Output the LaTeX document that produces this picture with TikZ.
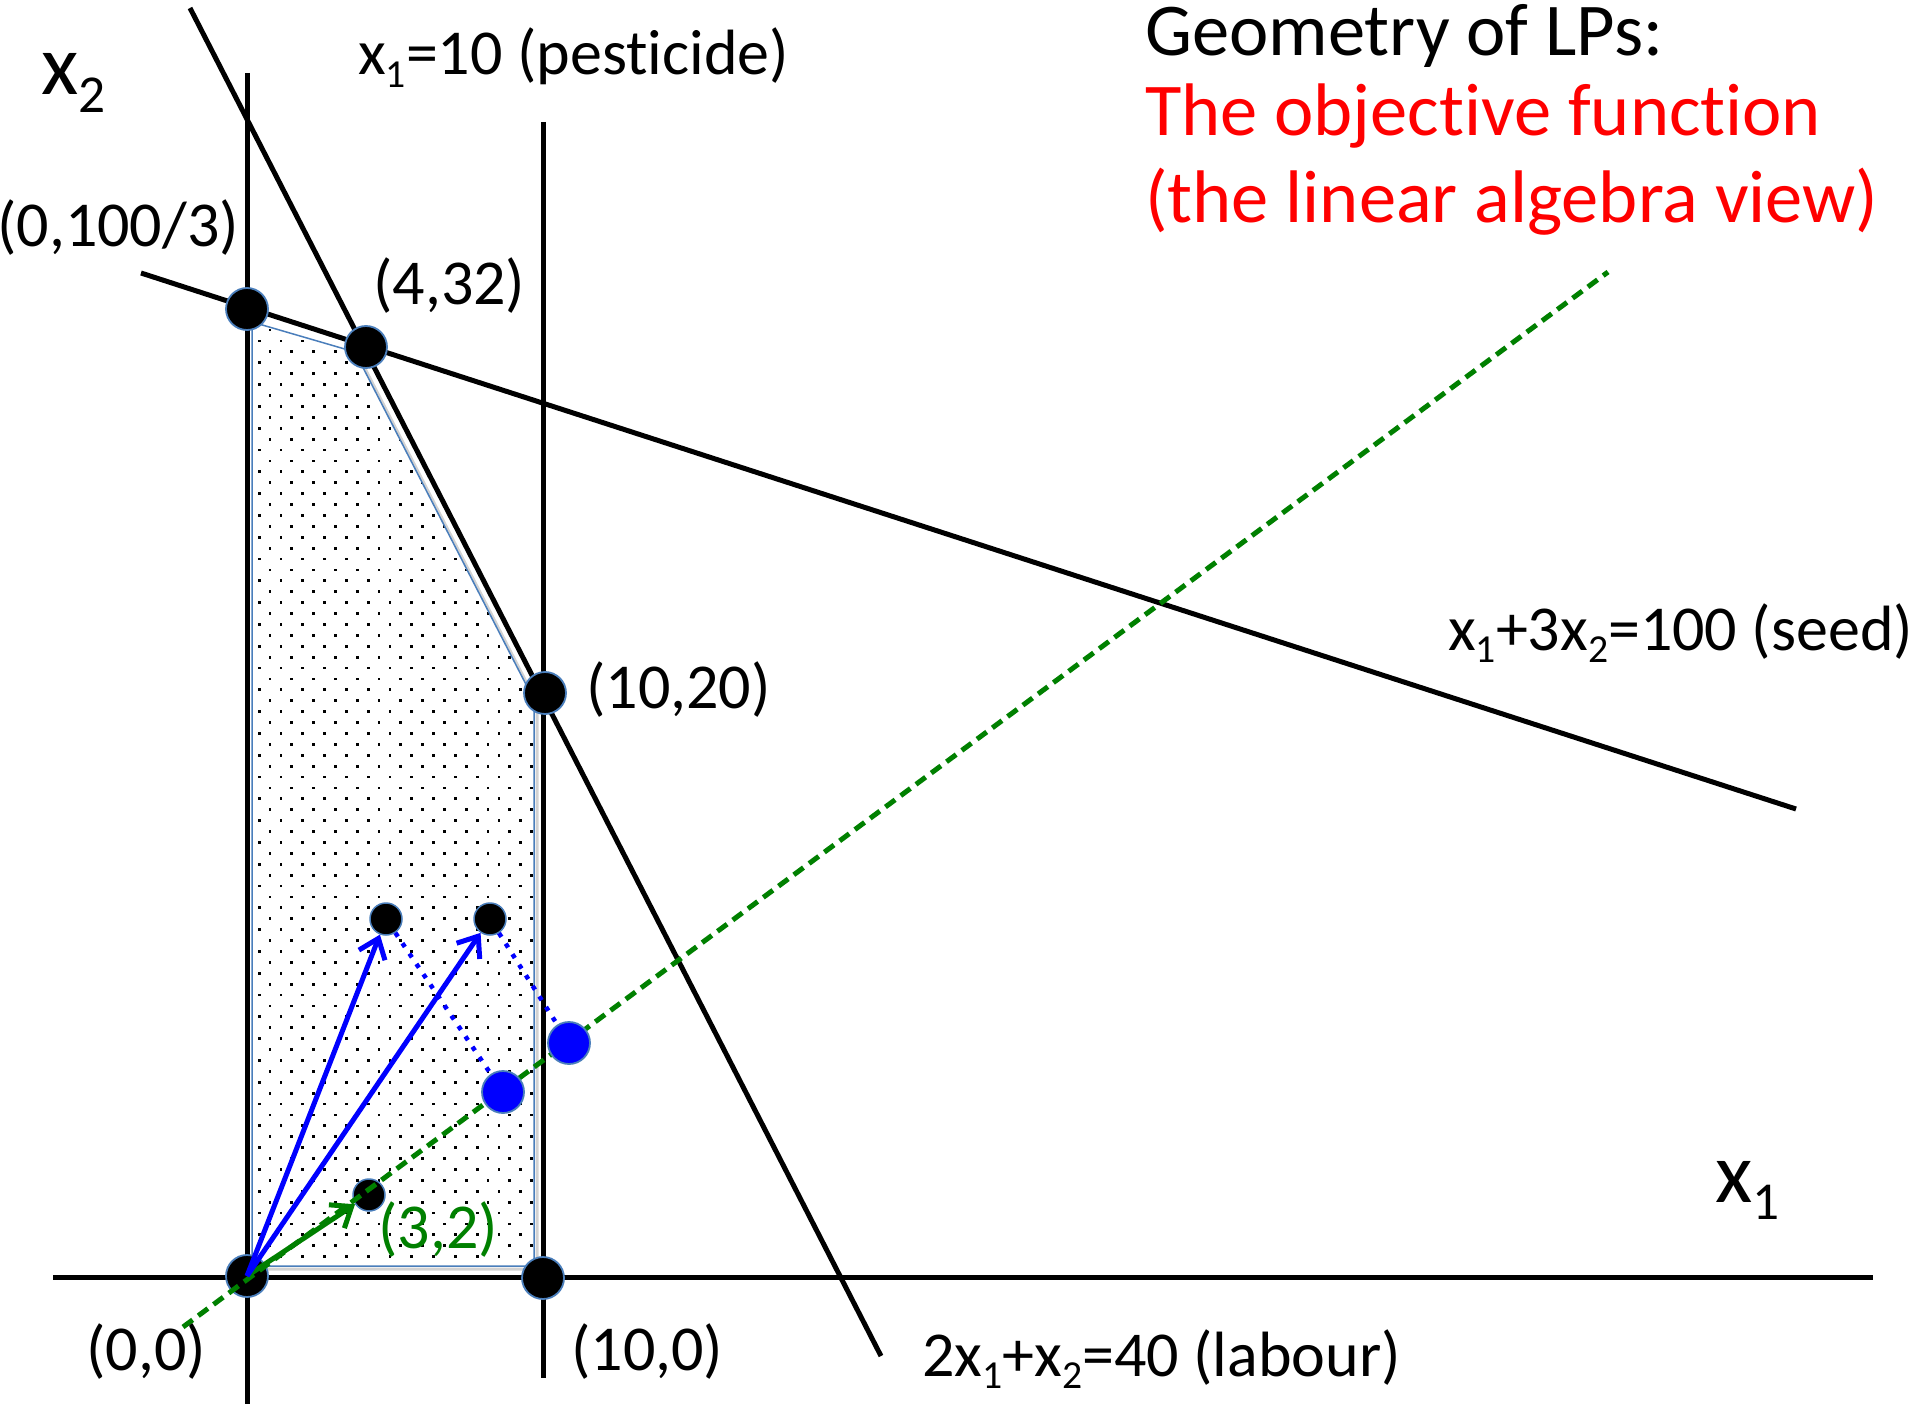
\documentclass[tikz,border=0pt]{standalone}
\usepackage{fontspec}
\setmainfont{Carlito}[Ligatures={NoCommon,NoContextual}]
\usetikzlibrary{arrows.meta}
\definecolor{steel}{HTML}{4A7EBB}
\definecolor{objgreen}{rgb}{0,0.5,0}
\definecolor{objblue}{rgb}{0,0,1}
\definecolor{titlered}{rgb}{1,0,0}
\newcommand\sbs[1]{\raisebox{-0.2em}{\scalebox{0.62}{#1}}}
\tikzset{
  lbl/.style={anchor=base west, inner sep=0pt, font=\fontsize{64}{76}\selectfont},
  axlbl/.style={anchor=base west, inner sep=0pt, font=\fontsize{86}{100}\selectfont},
  ttl/.style={anchor=base west, inner sep=0pt, font=\fontsize{74.5}{88}\selectfont},
  cline/.style={line width=5pt, black},
  vdot/.style={circle, fill=black, draw=steel, line width=1.8pt, minimum size=42pt, inner sep=0pt},
  sdot/.style={circle, fill=black, draw=steel, line width=1.5pt, minimum size=32pt, inner sep=0pt},
  bdot/.style={circle, fill=objblue, draw=steel, line width=1.8pt, minimum size=42pt, inner sep=0pt},
  barrow/.style={line width=5pt, objblue, -{Straight Barb[length=18pt,width=28pt]}},
  garrow/.style={line width=5pt, objgreen, -{Straight Barb[length=18pt,width=28pt]}},
  gdash/.style={line width=5pt, objgreen, dash pattern=on 12pt off 7pt},
  bdots/.style={line width=4.5pt, objblue, dash pattern=on 4.5pt off 8pt},
}
\begin{document}
\begin{tikzpicture}[x=1pt,y=-1pt]
\useasboundingbox (0,0) rectangle (1920,1404);
% feasible region
\draw[gray!35, line width=3pt] (255,325) -- (358,355) -- (537,703) -- (537,1269) -- (255,1269) -- cycle;
\fill[white] (252,322) -- (355,352) -- (534,700) -- (534,1266) -- (252,1266) -- cycle;
\begin{scope}
\clip (252,322) -- (355,352) -- (534,700) -- (534,1266) -- (252,1266) -- cycle;
\foreach \j in {-50,...,40} {
  \foreach \i in {-2,...,13} {
    \fill[black] ({270+21.8*\i-10.9*mod(abs(\j),2)-1.4},{853.3+10.9*\j-1.4}) rectangle ++(2.8,2.8);
  }
}
\end{scope}
\draw[steel, line width=1.5pt] (252,322) -- (355,352) -- (534,700) -- (534,1266) -- (252,1266) -- cycle;
% constraint lines and axes
\coordinate (xaL) at (53,1277);
\coordinate (xaR) at (1873,1277);
\coordinate (yaT) at (247,73);
\coordinate (yaB) at (247,1404);
\coordinate (peT) at (543,122);
\coordinate (peB) at (543,1378);
\coordinate (laT) at (190,8);
\coordinate (laB) at (881,1356);
\coordinate (seL) at (141,273);
\coordinate (seR) at (1796,809);
\coordinate (grS) at (183,1327);
\coordinate (grE) at (1608,272);
\draw[cline] (xaL) -- (xaR);
\draw[cline] (yaT) -- (yaB);
\draw[cline] (peT) -- (peB);
\draw[cline] (laT) -- (laB);
\draw[cline] (seL) -- (seR);
% vertices
\node[vdot] (O) at (247,1276) {};
\node[vdot] (C) at (247,309) {};
\node[vdot] (B) at (366,347) {};
\node[vdot] (A) at (545,693) {};
\node[vdot] (D) at (543,1278) {};
\node[sdot] (P) at (369,1195) {};
\node[sdot] (Q1) at (386,919) {};
\node[sdot] (Q2) at (490,919) {};
% objective direction
\draw[gdash] (grS) -- (grE);
\draw[garrow] (O.center) -- (P);
\draw[barrow] (O.center) -- (Q1);
\draw[barrow] (O.center) -- (Q2);
\node[bdot] (R1) at (503,1092) {};
\node[bdot] (R2) at (569,1043) {};
\draw[bdots] (Q1) -- (R1);
\draw[bdots] (Q2) -- (R2);
% labels
\node[axlbl] (lx2) at (41,95) {x\sbs{2}};
\node[axlbl] (lx1) at (1715,1202) {x\sbs{1}};
\node[lbl] (lpe) at (358,75) {x\sbs{1}=10 (pesticide)};
\node[lbl] (lC) at (-3,247) {(0,100/3)};
\node[lbl] (lB) at (373,305) {(4,32)};
\node[lbl] (lA) at (586,708) {(10,20)};
\node[lbl] (lse) at (1448,650) {x\sbs{1}+3x\sbs{2}=100 (seed)};
\node[lbl] (lla) at (922,1376) {2x\sbs{1}+x\sbs{2}=40 (labour)};
\node[lbl] (lO) at (86,1370) {(0,0)};
\node[lbl] (lD) at (571,1370) {(10,0)};
\node[lbl, text=objgreen] (lP) at (378,1248) {(3,2)};
\node[ttl] (t1) at (1145,56) {Geometry of LPs:};
\node[ttl, text=titlered] (t2) at (1145,136) {The objective function};
\node[ttl, text=titlered] (t3) at (1145,223) {(the linear algebra view)};
\end{tikzpicture}
\end{document}
